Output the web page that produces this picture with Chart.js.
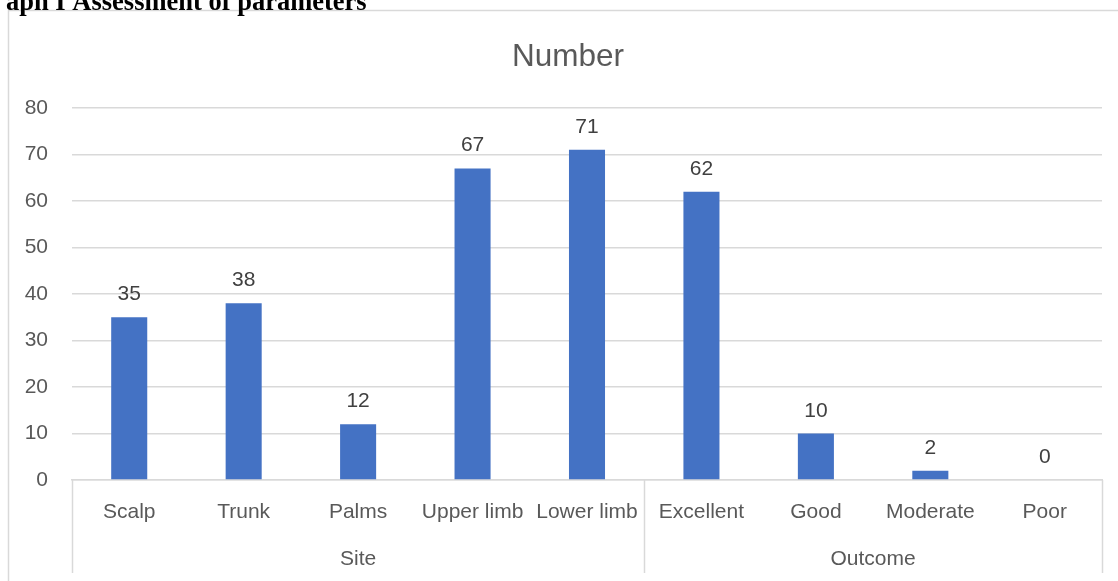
<!DOCTYPE html>
<html>
<head>
<meta charset="utf-8">
<script src="https://cdn.jsdelivr.net/npm/chart.js@4.4.1/dist/chart.umd.min.js"></script>
<style>
  html, body { margin: 0; padding: 0; background: #ffffff; }
  #wrap { position: relative; width: 1118px; height: 581px; overflow: hidden; }
  canvas { display: block; }
</style>
</head>
<body>
<div id="wrap"><canvas id="chart" width="1118" height="581"></canvas></div>
<script>
// Categories, grouped under Site and Outcome
const categories = ['Scalp', 'Trunk', 'Palms', 'Upper limb', 'Lower limb', 'Excellent', 'Good', 'Moderate', 'Poor'];
const groups = ['Site', 'Outcome'];
const groupSizes = [5, 4];
const numbers = [35, 38, 12, 67, 71, 62, 10, 2, 0];
const yTicks = [0, 10, 20, 30, 40, 50, 60, 70, 80];
const chartTitle = 'Number';
const heading = 'aph I Assessment of parameters';

const FONT = '"Liberation Sans", Arial, sans-serif';
const GRAY = '#595959';
const LINE = '#d9d9d9';

// Frame, heading, title, value labels and the two-level category axis
const decorations = {
  id: 'decorations',
  beforeDraw(chart) {
    const ctx = chart.ctx;
    ctx.save();
    ctx.fillStyle = '#ffffff';
    ctx.fillRect(0, 0, chart.width, chart.height);
    ctx.strokeStyle = LINE;
    ctx.lineWidth = 1.5;
    ctx.beginPath();
    ctx.moveTo(8.5, chart.height);
    ctx.lineTo(8.5, 10.5);
    ctx.lineTo(chart.width, 10.5);
    ctx.stroke();
    ctx.fillStyle = '#000000';
    ctx.font = 'bold 26.5px "Liberation Serif", "Times New Roman", serif';
    ctx.textAlign = 'left';
    ctx.textBaseline = 'alphabetic';
    ctx.fillText(heading, 6, 10);
    ctx.fillStyle = GRAY;
    ctx.font = '31.5px ' + FONT;
    ctx.textAlign = 'center';
    ctx.fillText(chartTitle, 568, 66);
    ctx.restore();
  },
  afterDraw(chart) {
    const ctx = chart.ctx;
    const x = chart.scales.x;
    const area = chart.chartArea;
    ctx.save();
    // value labels above bars
    const meta = chart.getDatasetMeta(0);
    ctx.fillStyle = '#404040';
    ctx.font = '21px ' + FONT;
    ctx.textAlign = 'center';
    ctx.textBaseline = 'alphabetic';
    meta.data.forEach((bar, i) => {
      ctx.fillText(String(numbers[i]), bar.x, bar.y - 17);
    });
    // group separators and group labels
    const step = x.getPixelForValue(1) - x.getPixelForValue(0);
    ctx.strokeStyle = LINE;
    ctx.lineWidth = 1.5;
    let start = 0;
    const bounds = [area.left];
    groupSizes.forEach((n) => {
      start += n;
      bounds.push(x.getPixelForValue(start - 1) + step / 2);
    });
    bounds.forEach((b) => {
      const px = Math.round(b) + 0.5;
      ctx.beginPath();
      ctx.moveTo(px, area.bottom);
      ctx.lineTo(px, 573);
      ctx.stroke();
    });
    ctx.fillStyle = GRAY;
    ctx.font = '21px ' + FONT;
    groups.forEach((g, i) => {
      ctx.fillText(g, (bounds[i] + bounds[i + 1]) / 2, 565);
    });
    ctx.restore();
  }
};

new Chart(document.getElementById('chart'), {
  type: 'bar',
  data: {
    labels: categories,
    datasets: [{
      label: chartTitle,
      data: numbers,
      backgroundColor: '#4472C4',
      borderWidth: 0,
      categoryPercentage: 1,
      barPercentage: 0.315
    }]
  },
  options: {
    responsive: false,
    animation: false,
    devicePixelRatio: 1,
    layout: { padding: { left: 0, right: 16, top: 108, bottom: 0 } },
    plugins: {
      legend: { display: false },
      title: { display: false },
      tooltip: { enabled: false }
    },
    scales: {
      x: {
        grid: { display: false, drawTicks: false },
        border: { display: true, color: LINE, width: 1.5 },
        ticks: {
          color: GRAY,
          font: { family: FONT, size: 21 },
          padding: 20,
          autoSkip: false,
          maxRotation: 0,
          minRotation: 0
        },
        afterFit(scale) { scale.height = 101; }
      },
      y: {
        min: 0,
        max: 80,
        afterBuildTicks(scale) { scale.ticks = yTicks.map(v => ({ value: v })); },
        grid: { color: LINE, lineWidth: 1.5, drawTicks: false },
        border: { display: false },
        ticks: {
          color: GRAY,
          font: { family: FONT, size: 21 },
          padding: 24
        },
        afterFit(scale) { scale.width = 72; }
      }
    }
  },
  plugins: [decorations]
});
</script>
</body>
</html>
